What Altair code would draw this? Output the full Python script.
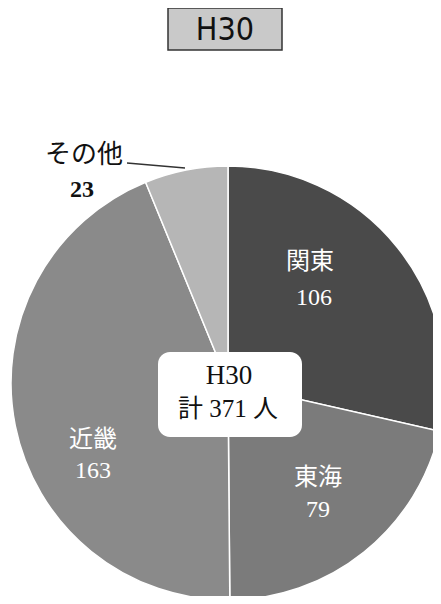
import altair as alt
import pandas as pd

# ---- data ----
regions = ["関東", "東海", "近畿", "その他"]
counts = [106, 79, 163, 23]
order = [1, 2, 3, 4]
colors = ["#4a4a4a", "#7b7b7b", "#8a8a8a", "#b6b6b6"]
title_text = "H30"
center_lines = ["H30", "計 371 人"]

df = pd.DataFrame({"region": regions, "count": counts, "order": order})

SERIF = "Liberation Serif, DejaVu Serif, Noto Sans CJK JP"
CX, CY, R = 220, 375, 217

base = alt.Chart(df)

pie = base.mark_arc(outerRadius=R, stroke="white", strokeWidth=1.5).encode(
    theta=alt.Theta("count:Q", stack=True),
    order=alt.Order("order:Q"),
    color=alt.Color("region:N", scale=alt.Scale(domain=regions, range=colors), legend=None),
    x=alt.value(CX),
    y=alt.value(CY),
)

one = pd.DataFrame({"k": [0]})

title_box = alt.Chart(one).mark_rect(fill="#c9c9c9", stroke="#333333", strokeWidth=1.5).encode(
    x=alt.value(160), x2=alt.value(274), y=alt.value(0), y2=alt.value(42)
)
title_lbl = alt.Chart(one).mark_text(
    text=title_text, font="DejaVu Sans Condensed, Liberation Sans Narrow, Roboto, DejaVu Sans",
    fontSize=32, color="#111111", baseline="middle", align="center"
).encode(x=alt.value(217), y=alt.value(22))

center_box = alt.Chart(one).mark_rect(fill="white", cornerRadius=12).encode(
    x=alt.value(150), x2=alt.value(294), y=alt.value(344), y2=alt.value(429)
)
center_l1 = alt.Chart(one).mark_text(
    text=center_lines[0], font=SERIF, fontSize=27, color="#111111", baseline="middle", align="center"
).encode(x=alt.value(221), y=alt.value(368))
center_l2 = alt.Chart(one).mark_text(
    text=center_lines[1], font=SERIF, fontSize=25, color="#111111", baseline="middle", align="center"
).encode(x=alt.value(220), y=alt.value(401))

leader = alt.Chart(one).mark_rule(color="#333333", strokeWidth=1.5).encode(
    x=alt.value(119), y=alt.value(155), x2=alt.value(177), y2=alt.value(160)
)

# label anchor layout (name line, value line)
label_layout = {
    "関東": ((302, 254), (306, 290), "white"),
    "東海": ((310, 470), (310, 502), "white"),
    "近畿": ((85, 432), (85, 463), "white"),
    "その他": ((76, 147), (74, 182), "#111111"),
}

label_layers = []
for reg in regions:
    (nx, ny), (vx, vy), col = label_layout[reg]
    fs_name = 26 if reg == "その他" else 24
    label_layers.append(
        base.transform_filter(alt.datum.region == reg).mark_text(
            font=SERIF, fontSize=fs_name, color=col, baseline="middle", align="center"
        ).encode(text="region:N", x=alt.value(nx), y=alt.value(ny))
    )
    label_layers.append(
        base.transform_filter(alt.datum.region == reg).mark_text(
            font=SERIF, fontSize=24, fontWeight="bold" if reg == "その他" else "normal",
            color=col, baseline="middle", align="center"
        ).encode(text="count:Q", x=alt.value(vx), y=alt.value(vy))
    )

chart = alt.layer(
    pie, title_box, title_lbl, leader, center_box, center_l1, center_l2, *label_layers
).properties(
    width=425, height=588,
    autosize=alt.AutoSizeParams(type="none"),
    padding=0,
    background="white",
).configure_view(stroke=None)

chart.save("out.html", embed_options={"renderer": "svg", "actions": False})
